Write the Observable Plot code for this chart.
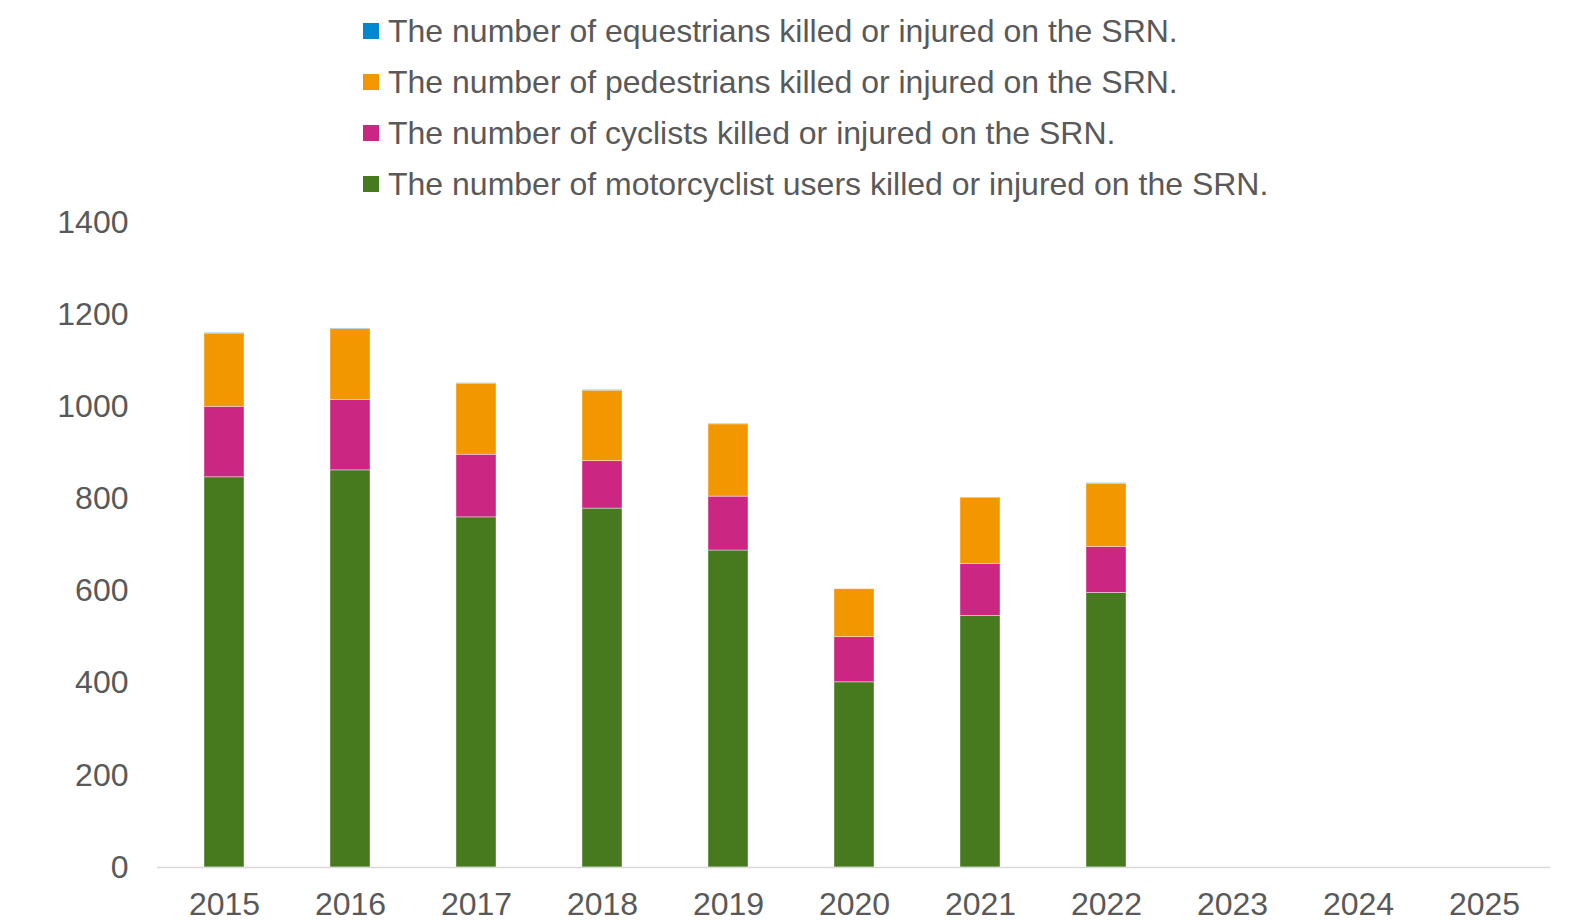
<!DOCTYPE html>
<html>
<head>
<meta charset="utf-8">
<script src="https://cdn.jsdelivr.net/npm/d3@7"></script>
<script src="https://cdn.jsdelivr.net/npm/@observablehq/plot@0.6"></script>
<style>
  html, body { margin: 0; padding: 0; background: #fff; }
  #wrap { width: 1573px; height: 923px; position: relative; font-family: "Liberation Sans", Arial, sans-serif; }
  #legend { position: relative; height: 200px; }
  .item { position: absolute; left: 363px; height: 40px; display: flex; align-items: center; color: #595959; font-size: 32px; white-space: nowrap; }
  .sw { width: 16px; height: 16px; margin-right: 9px; flex: none; }
</style>
</head>
<body>
<div id="wrap">
  <div id="legend"></div>
  <div id="chart"></div>
</div>
<script>
const years = ["2015","2016","2017","2018","2019","2020","2021","2022","2023","2024","2025"];
const dataYears = ["2015","2016","2017","2018","2019","2020","2021","2022"];
const motorcyclists = [847, 862, 760, 779, 688, 402, 546, 596];
const cyclists      = [153, 153, 136, 103, 117,  98, 113, 100];
const pedestrians   = [159, 154, 154, 153, 157, 104, 143, 137];
const equestrians   = [1, 1, 1, 1, 1, 0, 1, 1];
const seriesNames = [
  "The number of equestrians killed or injured on the SRN.",
  "The number of pedestrians killed or injured on the SRN.",
  "The number of cyclists killed or injured on the SRN.",
  "The number of motorcyclist users killed or injured on the SRN."
];
const seriesColors = ["#0088CE", "#F39700", "#CC2683", "#477A1F"];
const yTicks = [0, 200, 400, 600, 800, 1000, 1200, 1400];

const seriesValues = [equestrians, pedestrians, cyclists, motorcyclists];
const rows = [];
// stack bottom-up: motorcyclists, cyclists, pedestrians, equestrians
[3, 2, 1, 0].forEach(si => {
  dataYears.forEach((y, i) => rows.push({year: y, series: seriesNames[si], value: seriesValues[si][i]}));
});

// legend
const legend = document.getElementById("legend");
seriesNames.forEach((name, i) => {
  const d = document.createElement("div");
  d.className = "item";
  d.style.top = (11 + i * 51) + "px";
  const sw = document.createElement("span");
  sw.className = "sw";
  sw.style.background = seriesColors[i];
  const t = document.createElement("span");
  t.textContent = name;
  d.appendChild(sw); d.appendChild(t);
  legend.appendChild(d);
});

const chart = Plot.plot({
  width: 1573,
  height: 723,
  marginTop: 22,
  marginBottom: 56,
  marginLeft: 157,
  marginRight: 23,
  style: { fontFamily: "Liberation Sans, Arial, sans-serif", fontSize: "32px", color: "#595959", background: "#fff" },
  x: { domain: years, paddingInner: 0.684, paddingOuter: 0.342, label: null, tickSize: 0, tickPadding: 25 },
  y: { domain: [0, 1400], ticks: yTicks, tickFormat: d => String(d), label: null, tickSize: 0, tickPadding: 29 },
  color: { domain: seriesNames, range: seriesColors },
  marks: [
    Plot.barY(rows, Plot.stackY({
      order: [seriesNames[3], seriesNames[2], seriesNames[1], seriesNames[0]],
      x: "year", y: "value", z: "series", fill: "series",
      stroke: "#fff", strokeWidth: 0.8, strokeOpacity: 0.5, inset: 0
    })),
    Plot.ruleY([0], { stroke: "#D9D9D9", strokeWidth: 1.5 })
  ]
});
document.getElementById("chart").appendChild(chart);
</script>
</body>
</html>
